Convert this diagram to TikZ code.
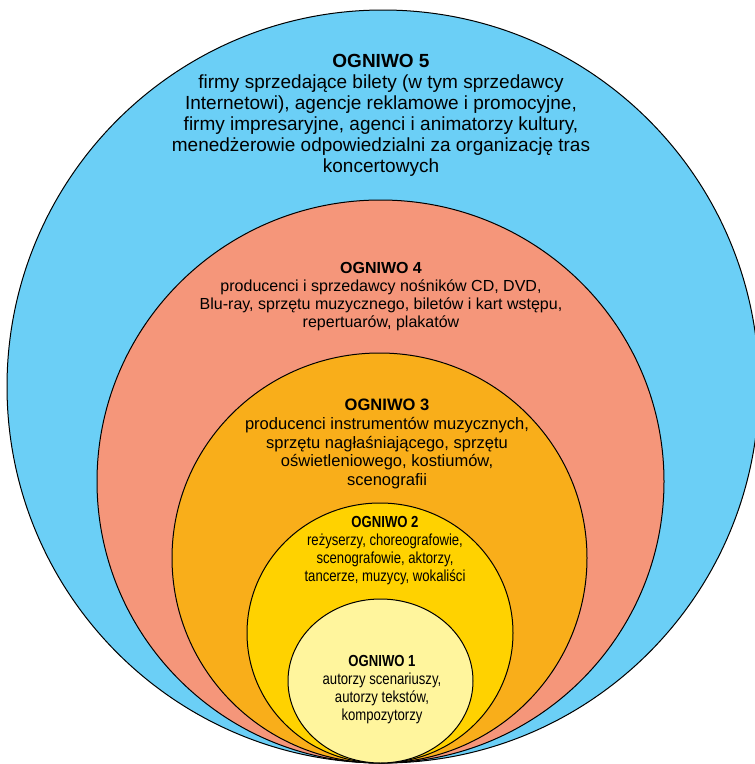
\documentclass[tikz,border=0pt]{standalone}
\usepackage{fontspec}
\setmainfont{Liberation Sans}
\newfontfamily\narrowfont[FakeStretch=0.82]{Liberation Sans}
\usepackage{tikz}
\usetikzlibrary{positioning}

\definecolor{ring5}{RGB}{107,207,246}
\definecolor{ring4}{RGB}{245,150,122}
\definecolor{ring3}{RGB}{249,174,26}
\definecolor{ring2}{RGB}{255,210,0}
\definecolor{ring1}{RGB}{255,245,157}

\begin{document}
\begin{tikzpicture}[x=0.75pt,y=-0.75pt]
\tikzstyle{ring}=[draw=black, line width=0.75pt]
\tikzstyle{lbl}=[align=center, inner sep=0pt]
\useasboundingbox (0,0) rectangle (755,764);
\clip (0,0) rectangle (755,764);
% rings, outer to inner, all touching at the bottom
\foreach \cx/\cy/\rx/\ry/\c in {383/386.5/376/376.5/ring5, 380.5/481.5/283.5/281.5/ring4,
  379.5/558/207.5/205/ring3, 380/633/133/130/ring2, 380.5/681/92.5/82/ring1}{
\draw[ring, fill=\c] (\cx,\cy) ellipse [x radius=\rx, y radius=\ry];
}
\node[lbl, font=\fontsize{14.25}{15.75}\selectfont] (o5) at (381,115)
  {\textbf{OGNIWO 5}\\firmy sprzedające bilety (w tym sprzedawcy\\Internetowi), agencje reklamowe i promocyjne,\\firmy impresaryjne, agenci i animatorzy kultury,\\menedżerowie odpowiedzialni za organizację tras\\koncertowych};
\node[lbl, font=\fontsize{12}{13.5}\selectfont] (o4) at (381,297)
  {\textbf{OGNIWO 4}\\producenci i sprzedawcy nośników CD, DVD,\\Blu-ray, sprzętu muzycznego, biletów i kart wstępu,\\repertuarów, plakatów};
\node[lbl, font=\fontsize{12.4}{13.9}\selectfont] (o3) at (387,444)
  {\textbf{OGNIWO 3}\\producenci instrumentów muzycznych,\\sprzętu nagłaśniającego, sprzętu\\oświetleniowego, kostiumów,\\scenografii};
\node[lbl, font=\narrowfont\fontsize{12}{13.5}\selectfont] (o2) at (385,551)
  {\textbf{OGNIWO 2}\\reżyserzy, choreografowie,\\scenografowie, aktorzy,\\tancerze, muzycy, wokaliści};
\node[lbl, font=\narrowfont\fontsize{12}{13.5}\selectfont] (o1) at (382,690)
  {\textbf{OGNIWO 1}\\autorzy scenariuszy,\\autorzy tekstów,\\kompozytorzy};
\end{tikzpicture}
\end{document}
